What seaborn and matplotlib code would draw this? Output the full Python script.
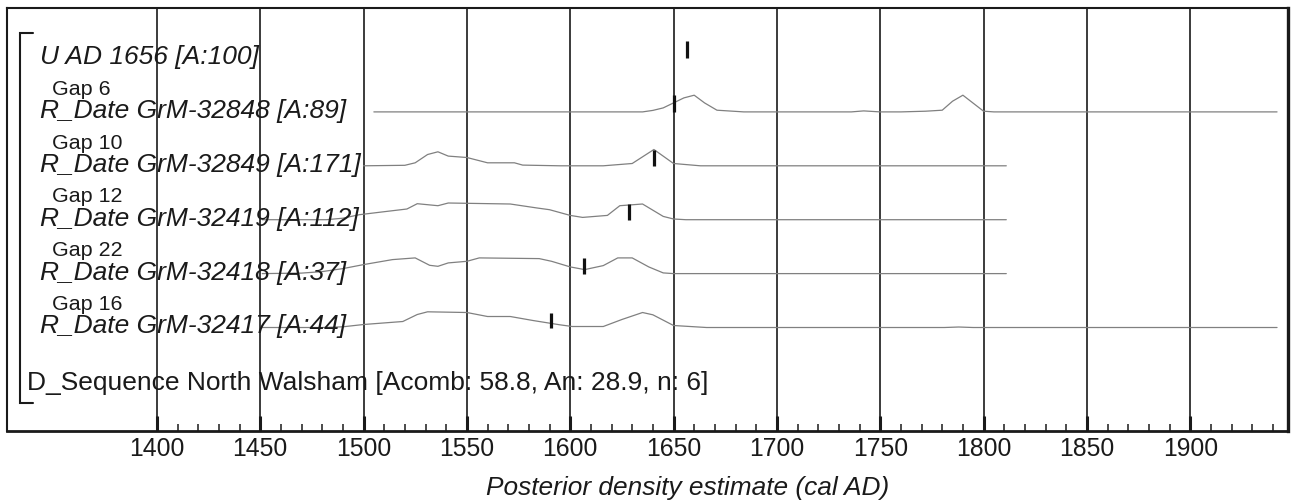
import numpy as np
import pandas as pd
import matplotlib
matplotlib.use("Agg")
import matplotlib.pyplot as plt
from matplotlib.ticker import FixedLocator
import seaborn as sns

# labels, top to bottom
labels = ["U AD 1656 [A:100]",
          "R_Date GrM-32848 [A:89]",
          "R_Date GrM-32849 [A:171]",
          "R_Date GrM-32419 [A:112]",
          "R_Date GrM-32418 [A:37]",
          "R_Date GrM-32417 [A:44]"]
gaps = ["", "Gap 6", "Gap 10", "Gap 12", "Gap 22", "Gap 16"]
seq_label = "D_Sequence North Walsham [Acomb: 58.8, An: 28.9, n: 6]"

# posterior densities (relative height)
yrs_48 = [1505, 1635, 1640, 1645, 1650, 1655, 1660, 1665, 1671, 1684, 1736, 1742, 1750,
          1760, 1772, 1780, 1785, 1790, 1800, 1805, 1942]
den_48 = [0, 0, 1.5, 4, 9, 14, 16.7, 9, 1.7, 0, 0, 1, 0,
          0, 0.7, 1.7, 10.7, 16.7, 0.7, 0, 0]

yrs_49 = [1500, 1520, 1525, 1531, 1536, 1541, 1550, 1560, 1573, 1577, 1595, 1616, 1630,
          1640.5, 1650, 1663, 1811]
den_49 = [0, 0.5, 3, 11.3, 14, 9.7, 8.3, 3, 3, 0.7, 0, 0, 2.3,
          16.3, 2.3, 0, 0]

yrs_19 = [1451, 1482, 1490, 1498, 1510, 1521, 1526, 1536, 1541, 1571, 1584, 1590, 1600,
          1606, 1618, 1624, 1635, 1645, 1650, 1656, 1811]
den_19 = [0, 0, 1.5, 5, 8, 10.7, 16, 14, 16.7, 15.7, 11.7, 10, 4.3,
          2.3, 4.3, 14, 15.7, 3.3, 0.7, 0, 0]

yrs_18 = [1451, 1470, 1480, 1490, 1500, 1514, 1525, 1532, 1536, 1541, 1550, 1556, 1585,
          1591, 1600, 1607, 1616, 1623, 1630, 1638, 1645, 1650, 1811]
den_18 = [0, 0.5, 2, 5, 9, 14, 15.7, 8.3, 7.3, 10.7, 12.3, 15.7, 15,
          12.3, 6.7, 4, 8, 15.7, 15.7, 6.7, 0.7, 0, 0]

yrs_17 = [1451, 1480, 1490, 1500, 1519, 1526, 1531, 1550, 1560, 1571, 1582, 1595, 1601,
          1616, 1625, 1635, 1640, 1650, 1666, 1781, 1788, 1795, 1942]
den_17 = [0, 0, 0.7, 3, 6, 13, 15.7, 15, 11, 11, 7, 2.7, 1,
          1, 8, 15, 12.7, 2, 0, 0, 0.5, 0, 0]

# median markers (year, relative height)
mark_yr = [1656.5, 1650, 1640.5, 1628.6, 1606.7, 1590.8]
mark_h = [17, 17, 16.3, 15.7, 16, 15]

curves = [(1, yrs_48, den_48), (2, yrs_49, den_49), (3, yrs_19, den_19),
          (4, yrs_18, den_18), (5, yrs_17, den_17)]
scale = 1 / 53.9

rows = []
for r, ys, ds in curves:
    for yr, d in zip(ys, ds):
        rows.append({"row": r, "year": yr, "y": r - d * scale})
df = pd.DataFrame(rows)

sns.set_theme(style="white")
plt.rcParams["font.family"] = ["Liberation Sans", "DejaVu Sans"]
txt = "#1a1a1a"

fig = plt.figure(figsize=(12.92, 5.03), dpi=100)
ax = fig.add_axes([7 / 1292, 72 / 503, 1281 / 1292, 422.7 / 503])

sns.lineplot(data=df, x="year", y="y", units="row", estimator=None, sort=False,
             color="#808080", lw=0.9, ax=ax, legend=False)

idx = np.arange(len(mark_yr))
ax.vlines(mark_yr, idx, idx - np.array(mark_h) * scale, color="#111111", lw=2.3)

ax.set_xlim(1327.5, 1947.3)
ax.set_ylim(6.92, -0.922)

ax.xaxis.set_major_locator(FixedLocator(list(range(1400, 1901, 50))))
ax.xaxis.set_minor_locator(FixedLocator([v for v in range(1400, 1950, 10) if v % 50]))
ax.tick_params(axis="x", which="major", direction="in", length=10.5, width=2.2,
               color=txt, labelsize=17.8, labelcolor=txt, pad=4.5, bottom=True)
ax.tick_params(axis="x", which="minor", direction="in", length=4.8, width=1.1,
               color=txt, bottom=True)
ax.set_yticks([])
ax.grid(axis="x", which="major", color=txt, lw=1.2)
ax.set_xlabel("")
ax.set_ylabel("")

for side, w in [("top", 1.5), ("left", 1.5), ("bottom", 2.0), ("right", 2.4)]:
    ax.spines[side].set_visible(True)
    ax.spines[side].set_color(txt)
    ax.spines[side].set_linewidth(w)

# labels
for i, (lab, g) in enumerate(zip(labels, gaps)):
    ax.text(1343.5, i + 0.11, lab, fontsize=19, style="italic", color=txt,
            ha="left", va="baseline")
    if g:
        ax.text(1349.3, i - 0.32, g, fontsize=15.4, color=txt, ha="left", va="baseline")
ax.text(1337.2, 6.16, seq_label, fontsize=19, color=txt, ha="left", va="baseline")

# sequence bracket
ax.plot([1340.1, 1333.8, 1333.8, 1340.1], [-0.458, -0.458, 6.406, 6.406],
        color=txt, lw=1.5, solid_joinstyle="miter")

fig.text(688 / 1292, 8 / 503, "Posterior density estimate (cal AD)", fontsize=18.9,
         style="italic", color=txt, ha="center", va="baseline")

fig.savefig("out.png", dpi=100, facecolor="white")
